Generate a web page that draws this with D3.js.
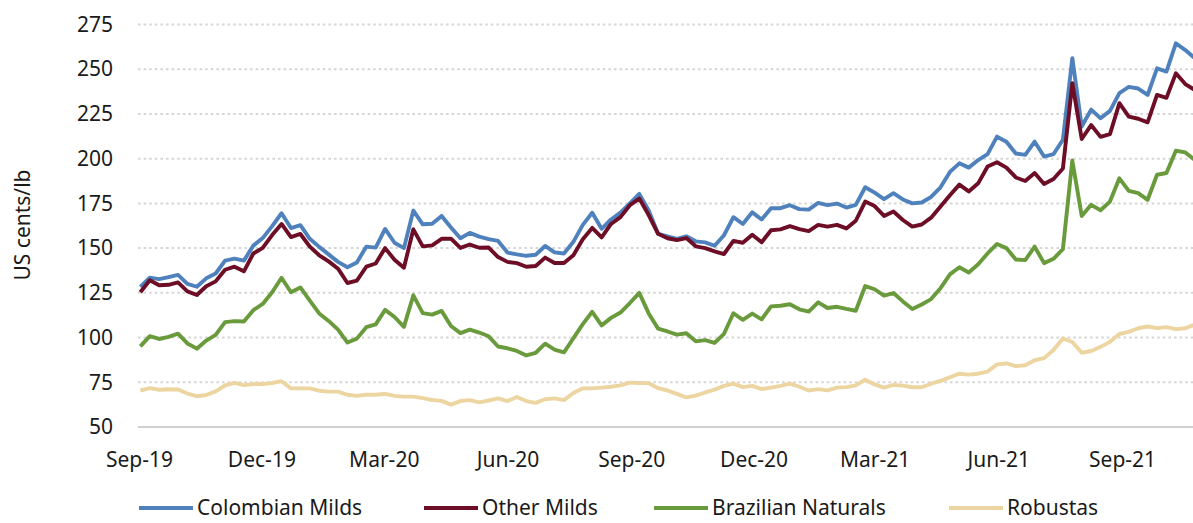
<!DOCTYPE html>
<html>
<head>
<meta charset="utf-8">
<script src="https://cdn.jsdelivr.net/npm/d3@7"></script>
<style>
  body { margin: 0; background: #fff; }
  svg { display: block; font-family: "Noto Sans", sans-serif; }
</style>
</head>
<body>
<svg id="chart" width="1193" height="523"></svg>
<script>
// weekly readings (Mondays), Sep 2019 - Oct 2021, US cents/lb
var weekStart = new Date(2019, 8, 2);
var weekEnd = new Date(2021, 9, 26);

var colombianMilds = [
    128.3, 133.5, 132.7, 133.8, 135, 130, 128.4, 133.1, 135.8, 143, 144.1, 143, 151.4, 155.6, 162.3, 169.5,
    161.2, 162.8, 155.2, 150.7, 146.5, 142.3, 139.3, 142, 150.8, 150.3, 160.7, 153, 150, 171, 163.3, 163.6, 168,
    161.5, 155.5, 158.5, 156.4, 155, 154, 147.5, 146.5, 145.7, 146.3, 151.2, 147.6, 147, 153.5, 163, 169.8, 160.8,
    166, 169.8, 175, 180.3, 171, 158, 156.5, 155.2, 156.6, 153.8, 153.2, 151.3, 157.2, 167.3, 163.5, 170,
    166, 172.3, 172.3, 174, 171.8, 171.5, 175.3, 174, 174.9, 172.7, 174.2, 184, 181, 177.4, 180.7, 177.2,
    175, 175.5, 178.6, 184, 192.6, 197.4, 195, 199.2, 202.5, 212.3, 209.5, 202.9, 202.1, 209.5, 201.2, 202.5,
    210.6, 256.2, 218, 227.4, 222.6, 226.7, 236.6, 240.1, 239.2, 235.6, 250.5, 248.7, 264.5, 260.7, 256.2
];
var otherMilds = [
    125.3, 132, 129.2, 129.5, 130.8, 125.8, 123.8, 128.7, 131.4, 137.9, 139.6, 137, 147, 150.1, 157.3, 163.5,
    156.2, 157.9, 150.8, 146, 142.6, 138.5, 130.5, 131.8, 139.6, 141.4, 150, 143.5, 139, 160.5, 151, 151.5, 155.2,
    155.3, 150.1, 152, 150.2, 150.3, 145, 142.3, 141.6, 139.6, 140, 144.7, 141.7, 141.7, 146, 155, 161.3, 156,
    163.5, 167.3, 174, 177.7, 168.5, 158, 155.5, 154.5, 155.6, 151, 150, 148.2, 146.7, 154, 153, 157.5,
    153.3, 160, 160.5, 162.3, 160.6, 159.5, 163, 162, 163, 161, 165.3, 176, 173.5, 168, 170.5, 165.7,
    162, 163.2, 167, 173.2, 179.5, 185.5, 181.7, 186.2, 195.6, 198, 195, 189.5, 187.5, 192, 185.8, 188.6,
    194.5, 242.2, 211, 218.8, 212.2, 213.7, 231, 223.5, 222.3, 220.3, 235.6, 234, 247.7, 241.7, 238.4
];
var brazilianNaturals = [
    95.1, 100.8, 99.2, 100.4, 102.2, 96.7, 93.8, 98.3, 101.5, 108.6, 109.2, 109, 115.3, 118.8, 125.3, 133.4,
    125.3, 128, 120.6, 113.5, 109.3, 104.4, 97.2, 99.4, 105.8, 107.4, 115.5, 111.5, 106, 123.6, 113.7, 112.8, 114.9,
    106.5, 102.5, 104.4, 102.8, 100.7, 95, 94, 92.5, 90, 91.5, 96.6, 93.2, 91.7, 99.6, 107.5, 114.4, 106.8,
    111, 114, 119.3, 125, 113.5, 105, 103.4, 101.6, 102.4, 97.9, 98.6, 97, 102.1, 113.6, 109.9, 113.4,
    110.2, 117.4, 117.8, 118.6, 115.8, 114.5, 119.7, 116.5, 117.2, 116, 115, 128.8, 127, 123.4, 124.9, 120.2,
    116, 118.5, 121.5, 127.6, 135.3, 139.3, 136.4, 141, 147, 152.3, 150, 143.6, 143.3, 150.8, 141.6, 144,
    149.4, 199, 168, 174.2, 171.2, 176, 189, 182, 180.7, 177, 191, 192, 204.4, 203.5, 199.3
];
var robustas = [
    70.4, 71.7, 70.8, 71.1, 71, 68.7, 67.2, 67.9, 69.9, 73.2, 74.7, 73.4, 74, 74, 74.6, 75.6,
    71.6, 71.6, 71.6, 70.3, 69.8, 69.8, 68, 67.4, 68, 68, 68.5, 67.4, 67, 67, 66.1, 65.1, 64.6,
    62.5, 64.5, 65, 63.8, 64.8, 66, 64.5, 66.8, 64.5, 63.5, 65.5, 66, 65, 69, 71.6, 71.6, 72,
    72.5, 73.3, 74.8, 74.6, 74.5, 71.7, 70.4, 68.5, 66.6, 67.5, 69.3, 70.9, 73, 74.2, 72.3, 73,
    71.2, 72, 73, 74.3, 72.5, 70.4, 71.2, 70.5, 72, 72.3, 73.3, 76.4, 73.8, 72, 73.5, 73.1,
    72.2, 72.2, 74.2, 75.8, 77.8, 79.8, 79.3, 79.8, 81, 85, 85.5, 84, 84.5, 87.3, 88.5, 93,
    99.5, 97.5, 91.5, 92.5, 94.8, 97.6, 102, 103.2, 105.2, 106.2, 105.3, 105.8, 104.7, 105.2, 107.2
];

var seriesNames = ["Colombian Milds", "Other Milds", "Brazilian Naturals", "Robustas"];
var seriesColors = ["#4f81bd", "#6d0d26", "#699a3b", "#ecd5a0"];
var yTicks = [50, 75, 100, 125, 150, 175, 200, 225, 250, 275];
// quarterly labels: Sep-19 ... Sep-21
var xTickMonths = d3.timeMonth.range(new Date(2019, 8, 1), new Date(2021, 9, 1), 3);

var svg = d3.select("#chart");
var weeks = d3.timeMonday.range(weekStart, weekEnd);
var allValues = [colombianMilds, otherMilds, brazilianNaturals, robustas];
var fontSize = 21;

var x = d3.scaleTime()
    .domain([new Date(2019, 8, 1), new Date(2021, 9, 23)])
    .range([139, 1192]);
var y = d3.scaleLinear()
    .domain([50, 275])
    .range([427, 24.5]);

// gridlines (dotted), baseline solid
svg.append("g")
    .selectAll("line")
    .data(yTicks)
    .join("line")
    .attr("x1", 138)
    .attr("x2", 1193)
    .attr("y1", function(d) { return y(d); })
    .attr("y2", function(d) { return y(d); })
    .attr("stroke", function(d) { return d === 50 ? "#d0d0d0" : "#d6d6d6"; })
    .attr("stroke-width", 2)
    .attr("stroke-dasharray", function(d) { return d === 50 ? null : "2.6,3"; });

var yAxis = svg.append("g")
    .attr("transform", "translate(113,0)")
    .call(d3.axisLeft(y).tickValues(yTicks).tickSize(0).tickPadding(0));
yAxis.select(".domain").remove();
yAxis.selectAll("text")
    .attr("font-size", fontSize)
    .attr("font-family", "'Noto Sans', sans-serif")
    .attr("fill", "#1a1a1a");

var xAxis = svg.append("g")
    .attr("transform", "translate(0,452)")
    .call(d3.axisBottom(x)
        .tickValues(xTickMonths)
        .tickFormat(d3.timeFormat("%b-%y"))
        .tickSize(0)
        .tickPadding(0));
xAxis.select(".domain").remove();
xAxis.selectAll("text")
    .attr("font-size", fontSize)
    .attr("font-family", "'Noto Sans', sans-serif")
    .attr("fill", "#1a1a1a");

svg.append("text")
    .attr("transform", "translate(23,225) rotate(-90)")
    .attr("text-anchor", "middle")
    .attr("dy", "0.35em")
    .attr("font-size", fontSize)
    .attr("fill", "#1a1a1a")
    .text("US cents/lb");

var line = d3.line()
    .x(function(d) { return x(d.date); })
    .y(function(d) { return y(d.value); });

allValues.forEach(function(values, i) {
    var points = weeks.map(function(w, j) {
        return { date: w, value: values[j] };
    });
    svg.append("path")
        .datum(points)
        .attr("fill", "none")
        .attr("stroke", seriesColors[i])
        .attr("stroke-width", 3.9)
        .attr("stroke-linejoin", "round")
        .attr("d", line);
});

// legend
var legendX = [139, 424, 654, 949];
var legend = svg.append("g")
    .selectAll("g")
    .data(seriesNames)
    .join("g")
    .attr("transform", function(d, i) { return "translate(" + legendX[i] + ",508)"; });
legend.append("line")
    .attr("x1", 0)
    .attr("x2", 54)
    .attr("stroke", function(d, i) { return seriesColors[i]; })
    .attr("stroke-width", 4);
legend.append("text")
    .attr("x", 58)
    .attr("dy", "0.35em")
    .attr("font-size", fontSize)
    .attr("fill", "#1a1a1a")
    .text(function(d) { return d; });
</script>
</body>
</html>
